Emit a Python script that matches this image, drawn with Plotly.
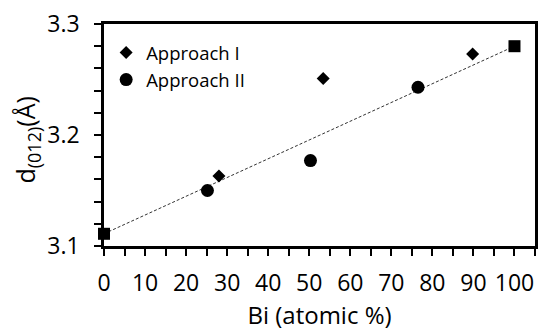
import plotly.graph_objects as go

# Data
approach1_x = [28.0, 53.4, 89.8]
approach1_y = [3.163, 3.251, 3.273]
approach2_x = [25.2, 50.3, 76.5]
approach2_y = [3.150, 3.177, 3.243]
endpoint_x = [0, 100]
endpoint_y = [3.111, 3.280]

FONT = "Open Sans"

fig = go.Figure()
fig.add_trace(go.Scatter(
    x=endpoint_x, y=endpoint_y, mode="lines",
    line=dict(color="#333333", width=1, dash="3px,2px"),
    showlegend=False, hoverinfo="skip"))
fig.add_trace(go.Scatter(
    x=endpoint_x, y=endpoint_y, mode="markers", cliponaxis=False,
    marker=dict(symbol="square", size=12, color="black"),
    showlegend=False))
fig.add_trace(go.Scatter(
    x=approach1_x, y=approach1_y, mode="markers", name="Approach I", cliponaxis=False,
    marker=dict(symbol="diamond", size=10, color="black")))
fig.add_trace(go.Scatter(
    x=approach2_x, y=approach2_y, mode="markers", name="Approach II", cliponaxis=False,
    marker=dict(symbol="circle", size=13, color="black")))

axis_common = dict(
    showline=True, linewidth=2.5, linecolor="black", mirror=True,
    ticks="outside", ticklen=7, tickwidth=2, tickcolor="black",
    showgrid=False, zeroline=False,
    tickfont=dict(family=FONT, size=23, color="black"),
)

fig.update_layout(
    width=540, height=334,
    margin=dict(l=104, r=2, t=24, b=88),
    paper_bgcolor="white", plot_bgcolor="white",
    xaxis=dict(range=[0, 105], tick0=0, dtick=10, ticklabelstandoff=8,
               minor=dict(dtick=5, ticks="outside", ticklen=7, tickwidth=2, tickcolor="black"),
               title=dict(text="Bi (atomic %)", font=dict(family=FONT, size=24, color="black"), standoff=6),
               **axis_common),
    yaxis=dict(range=[3.1, 3.3], tick0=3.1, dtick=0.1, tickformat=".1f", ticklabelstandoff=10,
               minor=dict(dtick=0.02, ticks="outside", ticklen=7, tickwidth=2, tickcolor="black"),
               **axis_common),
    legend=dict(x=0.005, y=0.955, xanchor="left", yanchor="top",
                bgcolor="rgba(0,0,0,0)", font=dict(family=FONT, size=18.5, color="black"),
                tracegroupgap=0, itemsizing="trace"),
    annotations=[dict(
        text="d<sub><span style='font-size:18px'>(012)</span></sub>(Å)",
        xref="paper", yref="paper", x=-0.18, y=0.477,
        xanchor="center", yanchor="middle", textangle=-90, showarrow=False,
        font=dict(family=FONT, size=25, color="black"))],
)

fig.write_html("out.html")
